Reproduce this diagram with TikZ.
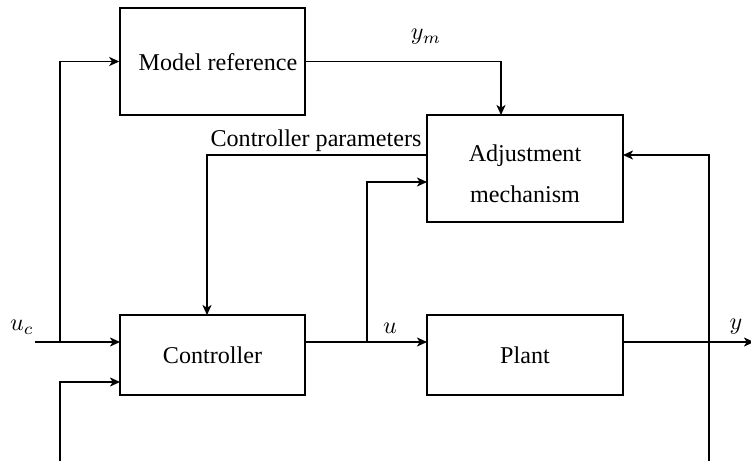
\documentclass[tikz,border=0pt]{standalone}
\usepackage{fontspec}
\setmainfont{Liberation Serif}
\usetikzlibrary{arrows.meta,calc}
\begin{document}
\begin{tikzpicture}[x=0.415pt,y=-0.415pt,
  blockbox/.style={draw,line width=0.6pt,rectangle,inner sep=0pt,font=\fontsize{10}{12}\selectfont},
  sig/.style={line width=0.6pt,-{Stealth[length=4.2pt,width=3.8pt,inset=1.2pt]}},
  lbl/.style={inner sep=0pt,font=\fontsize{10}{12}\selectfont}]
\useasboundingbox (0,0) rectangle (751,461);
% blocks
\node[blockbox,minimum width=76.8pt,minimum height=44.4pt] (model) at (212.5,61.5) {};
\node[lbl] (modeltxt) at (218,62) {Model reference};
\node[blockbox,minimum width=81.3pt,minimum height=44.4pt] (adj) at (525,168.5) {};
\node[lbl,align=center] (adjtxt) at (525,174) {Adjustment\\[5pt]mechanism};
\node[blockbox,minimum width=76.8pt,minimum height=33.2pt] (ctrl) at (212.5,355) {Controller};
\node[blockbox,minimum width=81.3pt,minimum height=33.2pt] (plant) at (525,355) {Plant};
% coordinates
\coordinate (ucstart) at (35,342);
\coordinate (ucbranch) at (60,342);
\coordinate (botstart) at (60,461);
\coordinate (ctrlin2) at (120,382);
\coordinate (ctrlin1) at (120,342);
\coordinate (ymdown) at (501,115);
\coordinate (cpin) at (207,315);
\coordinate (adjcp) at (427,155);
\coordinate (ubranch) at (367,342);
\coordinate (adjuin) at (427,182);
\coordinate (ctrlout) at (305,342);
\coordinate (plantin) at (427,342);
\coordinate (plantout) at (623,342);
\coordinate (yend) at (754,342);
\coordinate (fbstart) at (709,461);
\coordinate (adjfb) at (623,155);
% connectors
\draw[sig] (ucstart) -- (ctrlin1);
\draw[sig] (ucbranch) |- (model.west);
\draw[sig] (botstart) |- (ctrlin2);
\draw[sig] (model.east) -| (ymdown);
\draw[sig] (adjcp) -| (cpin);
\draw[sig] (ctrlout) -- (plantin);
\draw[sig] (ubranch) |- (adjuin);
\draw[sig] (plantout) -- (yend);
\draw[sig] (fbstart) |- (adjfb);
% labels
\node[lbl] (uclbl) at (22,327) {$u_c$};
\node[lbl] (ymlbl) at (426,37) {$y_m$};
\node[lbl] (cplbl) at (316,141) {Controller parameters};
\node[lbl] (ulbl) at (390,328) {$u$};
\node[lbl] (ylbl) at (736,327) {$y$};
\end{tikzpicture}
\end{document}
